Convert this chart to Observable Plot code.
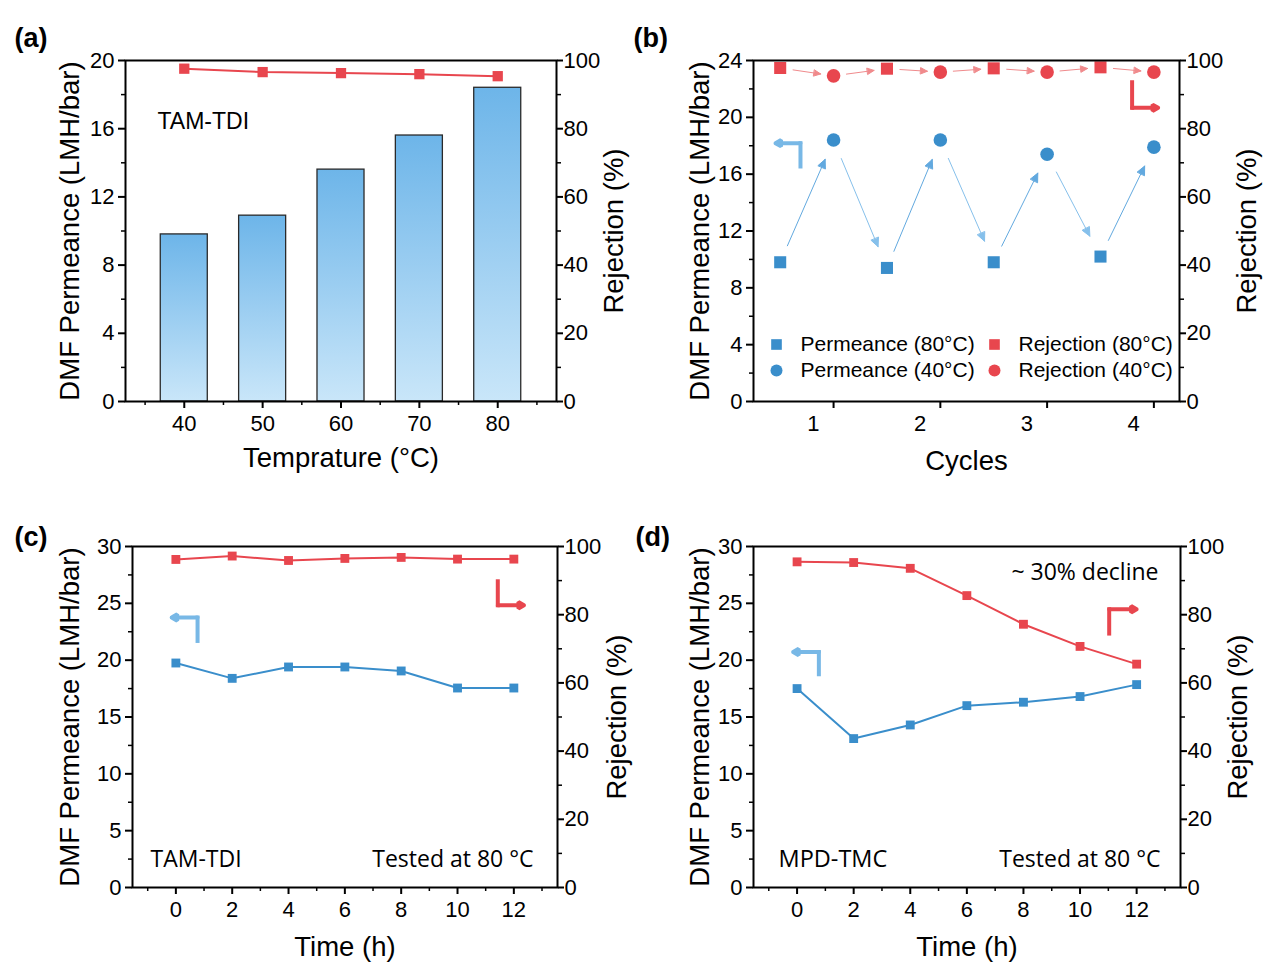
<!DOCTYPE html>
<html><head><meta charset="utf-8">
<script src="https://cdn.jsdelivr.net/npm/d3@7"></script>
<script src="https://cdn.jsdelivr.net/npm/@observablehq/plot@0.6"></script>
<style>
body{margin:0;background:#fff;}
#fig{position:relative;width:1269px;height:971px;background:#fff;overflow:hidden;}
.panel{position:absolute;}
.panel svg{overflow:visible;}
</style></head><body><div id="fig"></div>
<script>
// ---------------- data ----------------
const tempC = [40, 50, 60, 70, 80];
const tempPermeance = [9.8, 10.9, 13.6, 15.6, 18.4];
const tempRejection = [97.6, 96.6, 96.3, 96.0, 95.4];

const cycleNumbers = [1, 2, 3, 4];
const cyclePerm80 = [9.8, 9.4, 9.8, 10.2];
const cyclePerm40 = [18.4, 18.4, 17.4, 17.9];
const cycleRej80 = [97.8, 97.6, 97.7, 98.0];
const cycleRej40 = [95.5, 96.6, 96.6, 96.6];

const timeH = [0, 2, 4, 6, 8, 10, 12];
const tamPermeance = [19.75, 18.4, 19.4, 19.4, 19.05, 17.55, 17.55];
const tamRejection = [96.2, 97.2, 95.9, 96.5, 96.8, 96.3, 96.3];
const mpdPermeance = [17.5, 13.1, 14.3, 16.0, 16.3, 16.8, 17.85];
const mpdRejection = [95.5, 95.3, 93.6, 85.6, 77.2, 70.7, 65.5];

const rejTicks = [0, 20, 40, 60, 80, 100];
const rejMinor = [10, 30, 50, 70, 90];
const legendB = [
  {label: "Permeance (80°C)", color: "blue", symbol: "square"},
  {label: "Permeance (40°C)", color: "blue", symbol: "circle"},
  {label: "Rejection (80°C)", color: "red", symbol: "square"},
  {label: "Rejection (40°C)", color: "red", symbol: "circle"}
];

// ---------------- styles ----------------
const BLUE = "#3a8ecb", RED = "#e8464e", HINT_BLUE = "#78b8e6", LRED = "#f08a8c";
const AX = "'Liberation Sans', Arial, Helvetica, sans-serif";
const AN = "'Open Sans', 'Noto Sans', sans-serif";
const TICK_FS = 22, TITLE_FS = 27.5;
const STYLE = {fontFamily: AX, fontSize: "22px", color: "black", background: "transparent", overflow: "visible"};
const colorOf = c => c === "blue" ? BLUE : RED;
const fig = document.getElementById("fig");

function baseAxes(o) {
  const k = o.k;
  const m = [
    Plot.axisY(o.yTicks, {anchor: "left", tickSize: 7, tickPadding: 4, strokeWidth: 2, fontSize: TICK_FS, label: null}),
    Plot.axisY(o.yMinor, {anchor: "left", tickSize: 4, strokeWidth: 1.5, tickFormat: () => "", label: null}),
    Plot.axisY(rejTicks.map(v => v * k), {anchor: "right", tickSize: 6, tickPadding: 1, strokeWidth: 2, fontSize: TICK_FS, tickFormat: d => String(Math.round(d / k)), label: null}),
    Plot.axisY(rejMinor.map(v => v * k), {anchor: "right", tickSize: 4, strokeWidth: 1.5, tickFormat: () => "", label: null})
  ];
  if (o.xTicks) m.push(Plot.axisX(o.xTicks, {anchor: "bottom", tickSize: 7, tickPadding: 7, strokeWidth: 2, fontSize: TICK_FS, label: null}));
  if (o.xMinor) m.push(Plot.axisX(o.xMinor, {anchor: "bottom", tickSize: 4, strokeWidth: 1.5, tickFormat: () => "", label: null}));
  m.push(Plot.frame({stroke: "black", strokeWidth: 2}));
  return m;
}
function titles(o) {
  return [
    Plot.text([o.left], {text: d => d, frameAnchor: "left", textAnchor: "middle", lineAnchor: "middle", rotate: -90, dx: o.ldx, fontSize: TITLE_FS}),
    Plot.text([o.right], {text: d => d, frameAnchor: "right", textAnchor: "middle", lineAnchor: "middle", rotate: -90, dx: o.rdx, fontSize: TITLE_FS}),
    Plot.text([o.bottom], {text: d => d, frameAnchor: "bottom", textAnchor: "middle", lineAnchor: "middle", dy: o.bdy, fontSize: TITLE_FS}),
    Plot.text([o.tag], {text: d => d, frameAnchor: "top-left", textAnchor: "start", lineAnchor: "middle", dx: o.tdx, dy: o.tdy, fontSize: 27, fontWeight: "bold"})
  ];
}
function note(label, anchor, dx, dy, fs, family) {
  return Plot.text([label], {text: d => d, frameAnchor: anchor, textAnchor: anchor.endsWith("right") ? "end" : "start", lineAnchor: "middle", dx, dy, fontSize: fs, fontFamily: family});
}
function hint(pts, color) {
  const [p0, p1, p2] = pts;
  return [
    Plot.line([p0, p1], {x: d => d[0], y: d => d[1], stroke: color, strokeWidth: 4, strokeLinecap: "square"}),
    Plot.arrow([[p1, p2]], {x1: d => d[0][0], y1: d => d[0][1], x2: d => d[1][0], y2: d => d[1][1], stroke: color, strokeWidth: 4, headLength: 2.4, headAngle: 60})
  ];
}
function place(svg, left, top) {
  svg.querySelectorAll('g[aria-label="arrow"] path').forEach(p => {
    const d = p.getAttribute("d");
    if (d) { p.setAttribute("d", d + "Z"); p.setAttribute("fill", p.parentNode.getAttribute("stroke")); }
  });
  const div = document.createElement("div");
  div.className = "panel"; div.style.left = left + "px"; div.style.top = top + "px";
  div.appendChild(svg); fig.appendChild(div);
}

// ---------------- (a) ----------------
const kA = 20 / 100;
const dataA = tempC.map((t, i) => ({t, perm: tempPermeance[i], rej: tempRejection[i]}));
const svgA = Plot.plot({
  width: 620, height: 486, marginLeft: 125, marginRight: 64, marginTop: 60, marginBottom: 85,
  x: {domain: [32.5, 87.5]}, y: {domain: [0, 20]}, style: STYLE,
  marks: [
    Plot.rect(dataA, {x1: d => d.t - 3, x2: d => d.t + 3, y1: 0, y2: "perm", fill: "url(#barGrad)", stroke: "#2a2a2a", strokeWidth: 1.3}),
    Plot.line(dataA, {x: "t", y: d => d.rej * kA, stroke: RED, strokeWidth: 2}),
    Plot.dot(dataA, {x: "t", y: d => d.rej * kA, symbol: "square", r: 5.8, fill: RED}),
    note("TAM-TDI", "top-left", 32, 61, 23, AX),
    ...baseAxes({k: kA, yTicks: [0, 4, 8, 12, 16, 20], yMinor: [2, 6, 10, 14, 18], xTicks: tempC, xMinor: [35, 45, 55, 65, 75, 85]}),
    ...titles({left: "DMF Permeance (LMH/bar)", ldx: -55, right: "Rejection (%)", rdx: 58, bottom: "Temprature (°C)", bdy: 57, tag: "(a)", tdx: -111, tdy: -22})
  ]
});
const defs = document.createElementNS("http://www.w3.org/2000/svg", "defs");
defs.innerHTML = '<linearGradient id="barGrad" x1="0" y1="0" x2="0" y2="1"><stop offset="0" stop-color="#6db5e9"/><stop offset="1" stop-color="#c9e6f9"/></linearGradient>';
svgA.insertBefore(defs, svgA.firstChild);
place(svgA, 0, 0);

// ---------------- (b) ----------------
const kB = 24 / 100;
const OFF80 = -0.31, OFF40 = 0.19;
const seqB = cycleNumbers.flatMap((c, i) => [
  {x: c + OFF80, perm: cyclePerm80[i], rej: cycleRej80[i], temp: 80},
  {x: c + OFF40, perm: cyclePerm40[i], rej: cycleRej40[i], temp: 40}
]);
const pairsB = seqB.slice(1).map((d, i) => ({a: seqB[i], b: d}));
const upB = pairsB.filter(p => p.a.temp === 80), downB = pairsB.filter(p => p.a.temp === 40);
const legendMarks = legendB.flatMap((e, i) => {
  const col = Math.floor(i / 2), row = i % 2;
  return [
    Plot.dot([e], {frameAnchor: "bottom-left", dx: 23 + 218 * col, dy: -57 + 26 * row, symbol: e.symbol, r: 6, fill: colorOf(e.color)}),
    Plot.text([e], {text: "label", frameAnchor: "bottom-left", textAnchor: "start", lineAnchor: "middle", dx: 47 + 218 * col, dy: -57 + 26 * row, fontSize: 21})
  ];
});
const svgB = Plot.plot({
  width: 649, height: 486, marginLeft: 133, marginRight: 90, marginTop: 60, marginBottom: 85,
  x: {domain: [0.44, 4.43]}, y: {domain: [0, 24]}, style: STYLE,
  marks: [
    Plot.arrow(upB, {x1: p => p.a.x, y1: p => p.a.perm, x2: p => p.b.x, y2: p => p.b.perm, stroke: "#62a9df", strokeWidth: 1, headLength: 14, headAngle: 50, insetStart: 18, insetEnd: 21}),
    Plot.arrow(downB, {x1: p => p.a.x, y1: p => p.a.perm, x2: p => p.b.x, y2: p => p.b.perm, stroke: "#86c0eb", strokeWidth: 1, headLength: 14, headAngle: 50, insetStart: 20, insetEnd: 23}),
    Plot.arrow(pairsB, {x1: p => p.a.x, y1: p => p.a.rej * kB, x2: p => p.b.x, y2: p => p.b.rej * kB, stroke: LRED, strokeWidth: 1, headLength: 11, headAngle: 50, insetStart: 13, insetEnd: 13}),
    Plot.dot(seqB.filter(d => d.temp === 80), {x: "x", y: "perm", symbol: "square", r: 6.8, fill: BLUE}),
    Plot.dot(seqB.filter(d => d.temp === 40), {x: "x", y: "perm", symbol: "circle", r: 6.8, fill: BLUE}),
    Plot.dot(seqB.filter(d => d.temp === 80), {x: "x", y: d => d.rej * kB, symbol: "square", r: 6.8, fill: RED}),
    Plot.dot(seqB.filter(d => d.temp === 40), {x: "x", y: d => d.rej * kB, symbol: "circle", r: 6.8, fill: RED}),
    ...legendMarks,
    ...hint([[0.88, 16.54], [0.88, 18.18], [0.646, 18.18]], HINT_BLUE),
    ...hint([[3.986, 22.47], [3.986, 20.67], [4.23, 20.67]], RED),
    ...baseAxes({k: kB, yTicks: [0, 4, 8, 12, 16, 20, 24], yMinor: [2, 6, 10, 14, 18, 22]}),
    Plot.axisX(cycleNumbers.map(c => c + OFF40), {anchor: "bottom", tickSize: 7, strokeWidth: 2, tickFormat: () => "", label: null}),
    Plot.axisX(cycleNumbers, {anchor: "bottom", tickSize: 0, tickPadding: 14, fontSize: TICK_FS, label: null}),
    ...titles({left: "DMF Permeance (LMH/bar)", ldx: -53, right: "Rejection (%)", rdx: 68, bottom: "Cycles", bdy: 60, tag: "(b)", tdx: -120, tdy: -22})
  ]
});
place(svgB, 620, 0);

// ---------------- (c) & (d) ----------------
function timePanel(o) {
  const k = 30 / 100;
  const data = timeH.map((t, i) => ({t, perm: o.perm[i], rej: o.rej[i]}));
  return Plot.plot({
    width: o.width, height: 485, marginLeft: o.ml, marginRight: o.mr, marginTop: 60, marginBottom: 84,
    x: {domain: [-1.54, 13.55]}, y: {domain: [0, 30]}, style: STYLE,
    marks: [
      Plot.line(data, {x: "t", y: "perm", stroke: BLUE, strokeWidth: 2}),
      Plot.dot(data, {x: "t", y: "perm", symbol: "square", r: 5, fill: BLUE}),
      Plot.line(data, {x: "t", y: d => d.rej * k, stroke: RED, strokeWidth: 2}),
      Plot.dot(data, {x: "t", y: d => d.rej * k, symbol: "square", r: 5, fill: RED}),
      ...hint(o.blueHint, HINT_BLUE),
      ...hint(o.redHint, RED),
      ...o.notes,
      ...baseAxes({k, yTicks: [0, 5, 10, 15, 20, 25, 30], yMinor: [2.5, 7.5, 12.5, 17.5, 22.5, 27.5], xTicks: timeH, xMinor: [-1, 1, 3, 5, 7, 9, 11, 13]}),
      ...titles({left: "DMF Permeance (LMH/bar)", ldx: o.ldx, right: "Rejection (%)", rdx: o.rdx, bottom: "Time (h)", bdy: 60, tag: o.tag, tdx: o.tdx, tdy: -9})
    ]
  });
}
const svgC = timePanel({
  perm: tamPermeance, rej: tamRejection, width: 620, ml: 132, mr: 63, ldx: -62, rdx: 60, tag: "(c)", tdx: -118,
  blueHint: [[0.77, 21.69], [0.77, 23.75], [-0.15, 23.75]],
  redHint: [[11.43, 26.94], [11.43, 24.83], [12.36, 24.83]],
  notes: [
    note("TAM-TDI", "bottom-left", 18, -28, 23, AN),
    note("Tested at 80 °C", "bottom-right", -24, -28, 23, AN)
  ]
});
place(svgC, 0, 486);
const svgD = timePanel({
  perm: mpdPermeance, rej: mpdRejection, width: 649, ml: 133, mr: 89, ldx: -53, rdx: 58, tag: "(d)", tdx: -118,
  blueHint: [[0.77, 18.76], [0.77, 20.72], [-0.14, 20.72]],
  redHint: [[11.03, 22.34], [11.03, 24.48], [12.0, 24.48]],
  notes: [
    note("MPD-TMC", "bottom-left", 25, -28, 23.5, AN),
    note("Tested at 80 °C", "bottom-right", -20, -28, 23, AN),
    note("~ 30% decline", "top-right", -22, 26, 23, AN)
  ]
});
place(svgD, 620, 486);
</script></body></html>
